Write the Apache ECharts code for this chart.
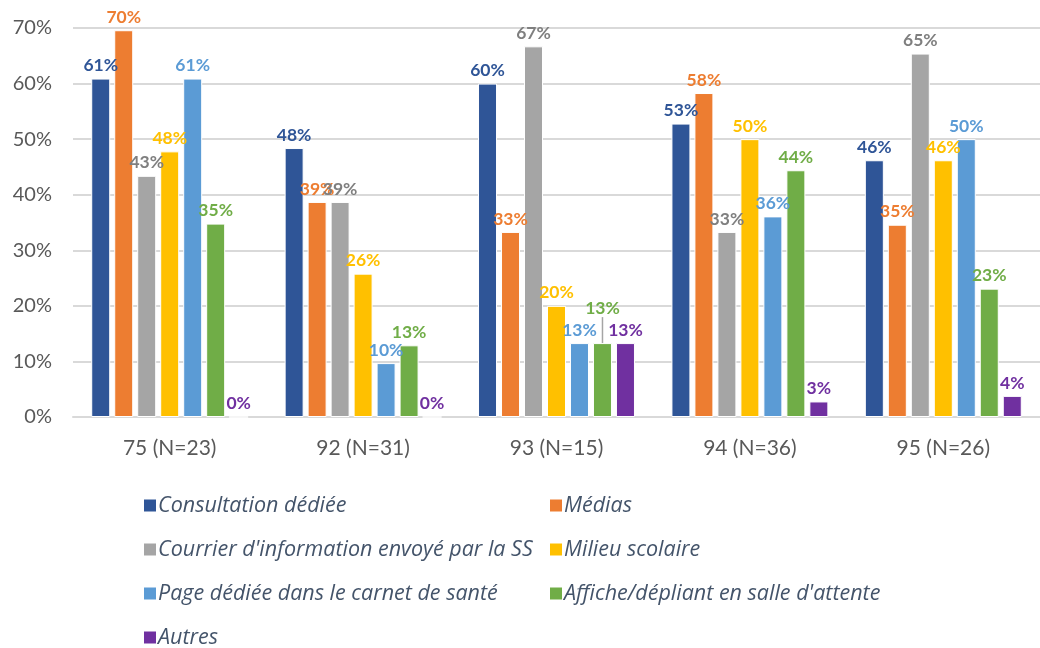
<!DOCTYPE html>
<html><head><meta charset="utf-8">
<script src="https://cdn.jsdelivr.net/npm/echarts@6/dist/echarts.min.js"></script>
<style>html,body{margin:0;padding:0;background:#fff}#c{width:1040px;height:648px}</style>
</head><body><div id="c"></div>
<script>
const categories = ['75 (N=23)', '92 (N=31)', '93 (N=15)', '94 (N=36)', '95 (N=26)'];
const seriesNames = ['Consultation dédiée', 'Médias', "Courrier d'information envoyé par la SS", 'Milieu scolaire', 'Page dédiée dans le carnet de santé', "Affiche/dépliant en salle d'attente", 'Autres'];
const consultation = [60.9, 48.4, 60.0, 52.8, 46.2];
const medias = [69.6, 38.7, 33.3, 58.3, 34.6];
const courrier = [43.4, 38.7, 66.7, 33.3, 65.4];
const milieu = [47.8, 25.8, 20.0, 50.0, 46.2];
const page = [60.9, 9.7, 13.3, 36.1, 50.0];
const affiche = [34.8, 12.9, 13.3, 44.4, 23.1];
const autres = [0, 0, 13.3, 2.8, 3.8];
const yTicks = [0, 10, 20, 30, 40, 50, 60, 70];

const values = [consultation, medias, courrier, milieu, page, affiche, autres];
const colors = ['#2F5597', '#ED7D31', '#A5A5A5', '#FFC000', '#5B9BD5', '#70AD47', '#7030A0'];
const labelColors = ['#2F5597', '#ED7D31', '#7F7F7F', '#FFC000', '#5B9BD5', '#70AD47', '#7030A0'];
const FONT = '"Open Sans", Lato, sans-serif';

const chart = echarts.init(document.getElementById('c'), null, {renderer: 'canvas'});
const series = seriesNames.map((name, i) => {
  const data = values[i].map((v, j) => {
    if (i === 5 && j === 2) {
      return {value: v, labelLine: {show: true, lineStyle: {color: '#A5A5A5', width: 1.5}}};
    }
    return v;
  });
  const s = {
    name, type: 'bar',
    data,
    barWidth: 19,
    barGap: '21%',
    itemStyle: {color: colors[i], borderColor: '#fff', borderWidth: 1},
    labelLine: {show: false},
    label: {
      show: true, position: 'top', distance: 4,
      formatter: p => Math.round(p.value) + '%',
      color: labelColors[i], fontFamily: 'Lato, sans-serif', fontWeight: 'bold', fontSize: 17.5
    }
  };
  if (i === 5) {
    s.labelLayout = function (p) { if (p.dataIndex === 2) return {dy: -22}; return {}; };
  }
  return s;
});

const legendCommon = {
  orient: 'vertical', top: 488, height: 160, itemGap: 19,
  itemWidth: 14, itemHeight: 14, icon: 'rect', selectedMode: false,
  textStyle: {color: '#44546A', fontSize: 21.5, lineHeight: 25, fontStyle: 'italic', fontFamily: FONT, padding: [0, 0, 0, -4]}
};

chart.setOption({
  animation: false,
  grid: {left: 73, right: 0, top: 28, bottom: 231, containLabel: false},
  xAxis: {
    type: 'category', data: categories,
    axisLine: {show: true, lineStyle: {color: '#D9D9D9', width: 2}},
    axisTick: {show: false},
    axisLabel: {color: '#595959', fontSize: 21, fontFamily: 'Lato, sans-serif', margin: 21}
  },
  yAxis: {
    type: 'value', min: yTicks[0], max: yTicks[yTicks.length - 1], interval: 10,
    axisLine: {show: false}, axisTick: {show: false},
    splitLine: {lineStyle: {color: '#D9D9D9', width: 2}},
    axisLabel: {color: '#595959', fontSize: 20, fontFamily: 'Lato, sans-serif', margin: 21, formatter: v => v + '%'}
  },
  legend: [
    Object.assign({}, legendCommon, {left: 137, data: [seriesNames[0], seriesNames[2], seriesNames[4], seriesNames[6]]}),
    Object.assign({}, legendCommon, {left: 543, data: [seriesNames[1], seriesNames[3], seriesNames[5]]})
  ],
  series
});
</script></body></html>
